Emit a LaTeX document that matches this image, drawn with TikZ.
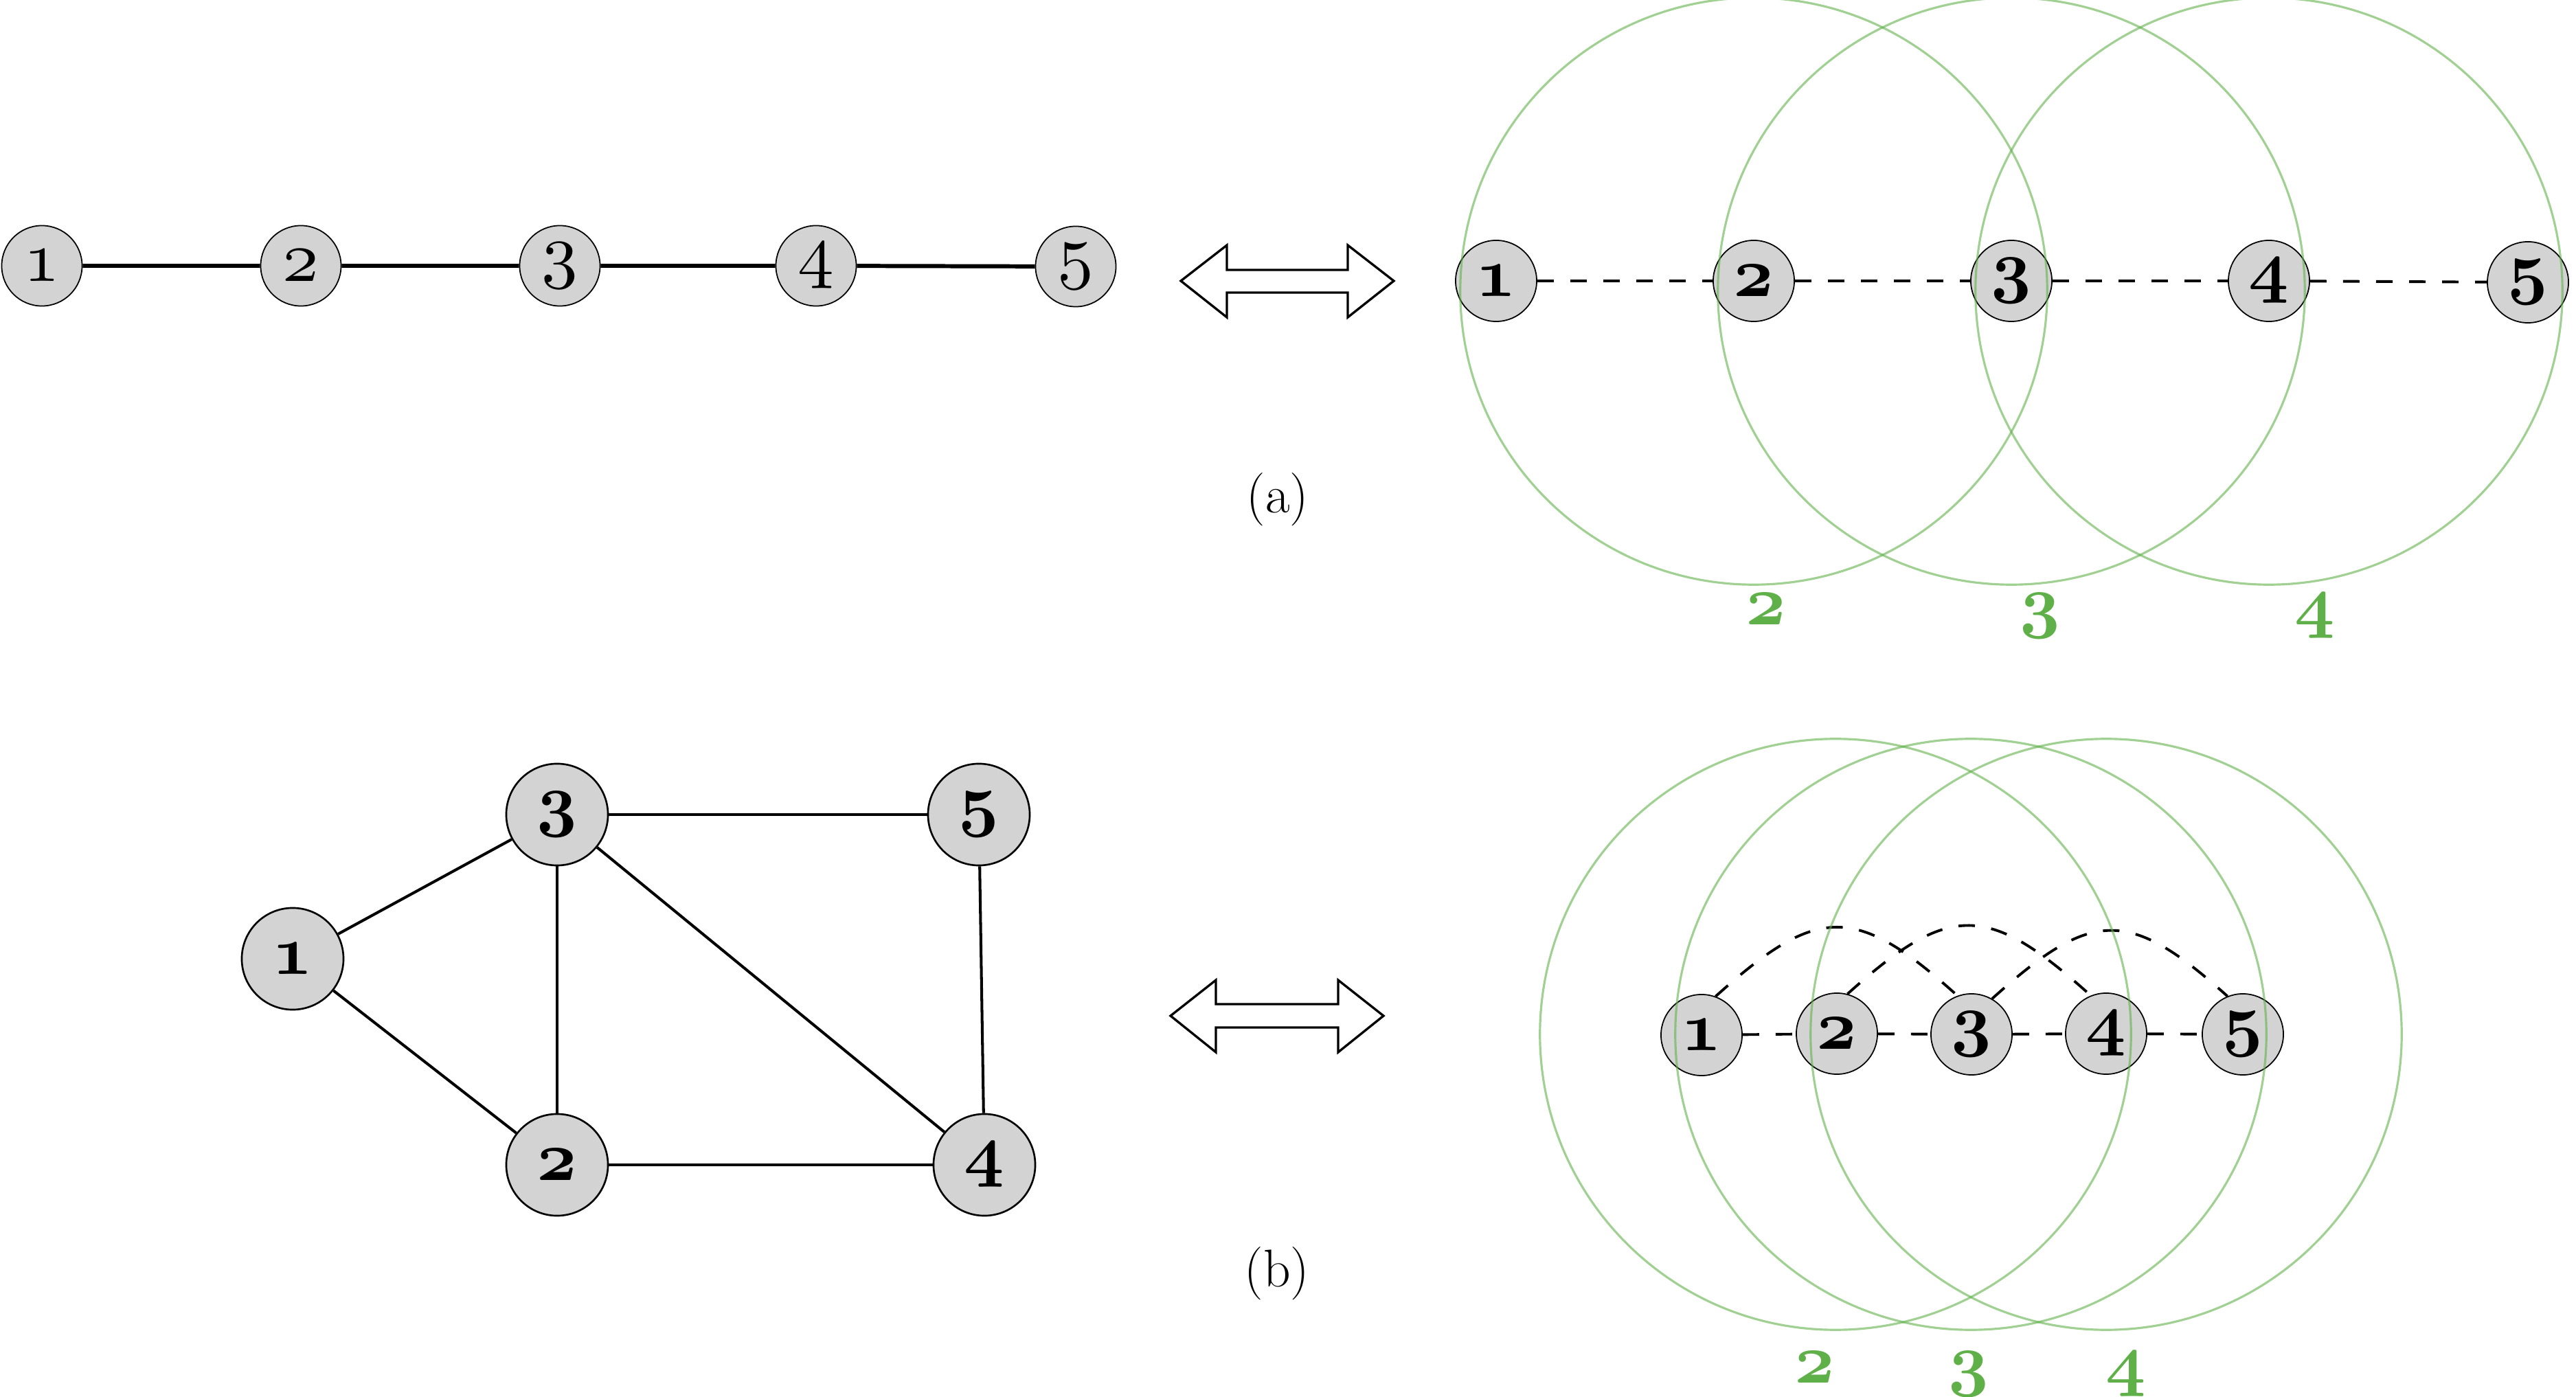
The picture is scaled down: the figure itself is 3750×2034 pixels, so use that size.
\documentclass[tikz,border=0pt]{standalone}
\DeclareFontFamily{OML}{osf}{\skewchar\font=127}
\DeclareFontShape{OML}{osf}{m}{it}{<->cmmi10}{}
\DeclareFontShape{OML}{osf}{b}{it}{<->cmmib10}{}
\definecolor{nodegray}{RGB}{211,211,211}
\definecolor{lgreen}{RGB}{96,176,74}
\newcommand{\osnum}{\fontsize{30pt}{30pt}\usefont{OML}{osf}{m}{it}}
\newcommand{\osbnum}{\fontsize{29pt}{29pt}\usefont{OML}{osf}{b}{it}}
\tikzset{
  tlnode/.style={circle, draw, line width=0.5pt, fill=nodegray, minimum size=1.17cm, inner sep=0pt, font=\osnum},
  trnode/.style={circle, draw, line width=0.5pt, fill=nodegray, minimum size=1.18cm, inner sep=0pt, font=\osbnum},
  blnode/.style={circle, draw, line width=0.75pt, fill=nodegray, minimum size=1.48cm, inner sep=0pt, font=\osbnum},
  solidedge/.style={line width=1.7pt},
  graphedge/.style={line width=1.15pt},
  dashedge/.style={line width=1.1pt, dash pattern=on 0.24cm off 0.24cm},
  ring/.style={draw=lgreen, draw opacity=0.6, line width=0.9pt},
  ringlabel/.style={text=lgreen, font=\osbnum, anchor=base, inner sep=0pt},
  caption/.style={font=\fontsize{22pt}{22pt}\selectfont, inner sep=0pt},
  dblarrow/.style={line width=0.95pt, fill=white, line join=miter}
}
\begin{document}
\begin{tikzpicture}[x=0.01cm, y=-0.01cm]
\useasboundingbox (0,0) rectangle (3750,2034);

% ---------- (a) left: path graph ----------
\node[tlnode] (a1) at (61,387) {1};
\node[tlnode] (a2) at (438,387) {2};
\node[tlnode] (a3) at (815,387) {3};
\node[tlnode] (a4) at (1188,387) {4};
\node[tlnode] (a5) at (1566,388) {5};
\draw[solidedge] (a1) -- (a2) -- (a3) -- (a4) -- (a5);

% double arrow (a)
\draw[dblarrow] (1719,409) -- (1786,357) -- (1786,393) -- (1962,393) -- (1962,357)
  -- (2029,409) -- (1962,462) -- (1962,426) -- (1786,426) -- (1786,462) -- cycle;

\node[caption] (capa) at (1860,727) {(a)};

% ---------- (a) right ----------
\node[trnode] (r1) at (2178,409) {1};
\node[trnode] (r2) at (2553,409) {2};
\node[trnode] (r3) at (2928,409) {3};
\node[trnode] (r4) at (3303,409) {4};
\node[trnode] (r5) at (3680,411) {5};
\draw[dashedge] (r1) -- (r2);
\draw[dashedge] (r2) -- (r3);
\draw[dashedge] (r3) -- (r4);
\draw[dashedge] (r4) -- (r5);

\draw[ring] (2553,424) circle [radius=4.27cm];
\draw[ring] (2928,424) circle [radius=4.27cm];
\draw[ring] (3303,424) circle [radius=4.27cm];

\node[ringlabel] (la2) at (2571,910) {2};
\node[ringlabel] (la3) at (2970,910) {3};
\node[ringlabel] (la4) at (3370,910) {4};

% ---------- (b) left: graph ----------
\node[blnode] (g1) at (426,1396) {1};
\node[blnode] (g2) at (811,1696) {2};
\node[blnode] (g3) at (811,1186) {3};
\node[blnode] (g4) at (1433,1696) {4};
\node[blnode] (g5) at (1425,1186) {5};
\draw[graphedge] (g1) -- (g3);
\draw[graphedge] (g1) -- (g2);
\draw[graphedge] (g3) -- (g2);
\draw[graphedge] (g3) -- (g5);
\draw[graphedge] (g3) -- (g4);
\draw[graphedge] (g2) -- (g4);
\draw[graphedge] (g5) -- (g4);

% double arrow (b)
\draw[dblarrow] (1704,1479) -- (1770,1427) -- (1770,1462) -- (1948,1462) -- (1948,1427)
  -- (2014,1479) -- (1948,1532) -- (1948,1496) -- (1770,1496) -- (1770,1532) -- cycle;

\node[caption] (capb) at (1859,1854) {(b)};

% ---------- (b) right ----------
\node[trnode] (s1) at (2477,1507) {1};
\node[trnode] (s2) at (2674,1505) {2};
\node[trnode] (s3) at (2870,1506) {3};
\node[trnode] (s4) at (3066,1505) {4};
\node[trnode] (s5) at (3265,1506) {5};
\draw[dashedge] (s1) -- (s2);
\draw[dashedge] (s2) -- (s3);
\draw[dashedge] (s3) -- (s4);
\draw[dashedge] (s4) -- (s5);
\draw[dashedge] (s1.70) to[out=42, in=138, looseness=1.45] (s3.110);
\draw[dashedge] (s2.75) to[out=42, in=138, looseness=1.45] (s4.112);
\draw[dashedge] (s3.60) to[out=42, in=138, looseness=1.45] (s5.112);

\draw[ring] (2672,1506) circle [radius=4.3cm];
\draw[ring] (2869,1506) circle [radius=4.3cm];
\draw[ring] (3066,1506) circle [radius=4.3cm];

\node[ringlabel] (lb2) at (2642,2013) {2};
\node[ringlabel] (lb3) at (2866,2013) {3};
\node[ringlabel] (lb4) at (3095,2013) {4};
\end{tikzpicture}
\end{document}
